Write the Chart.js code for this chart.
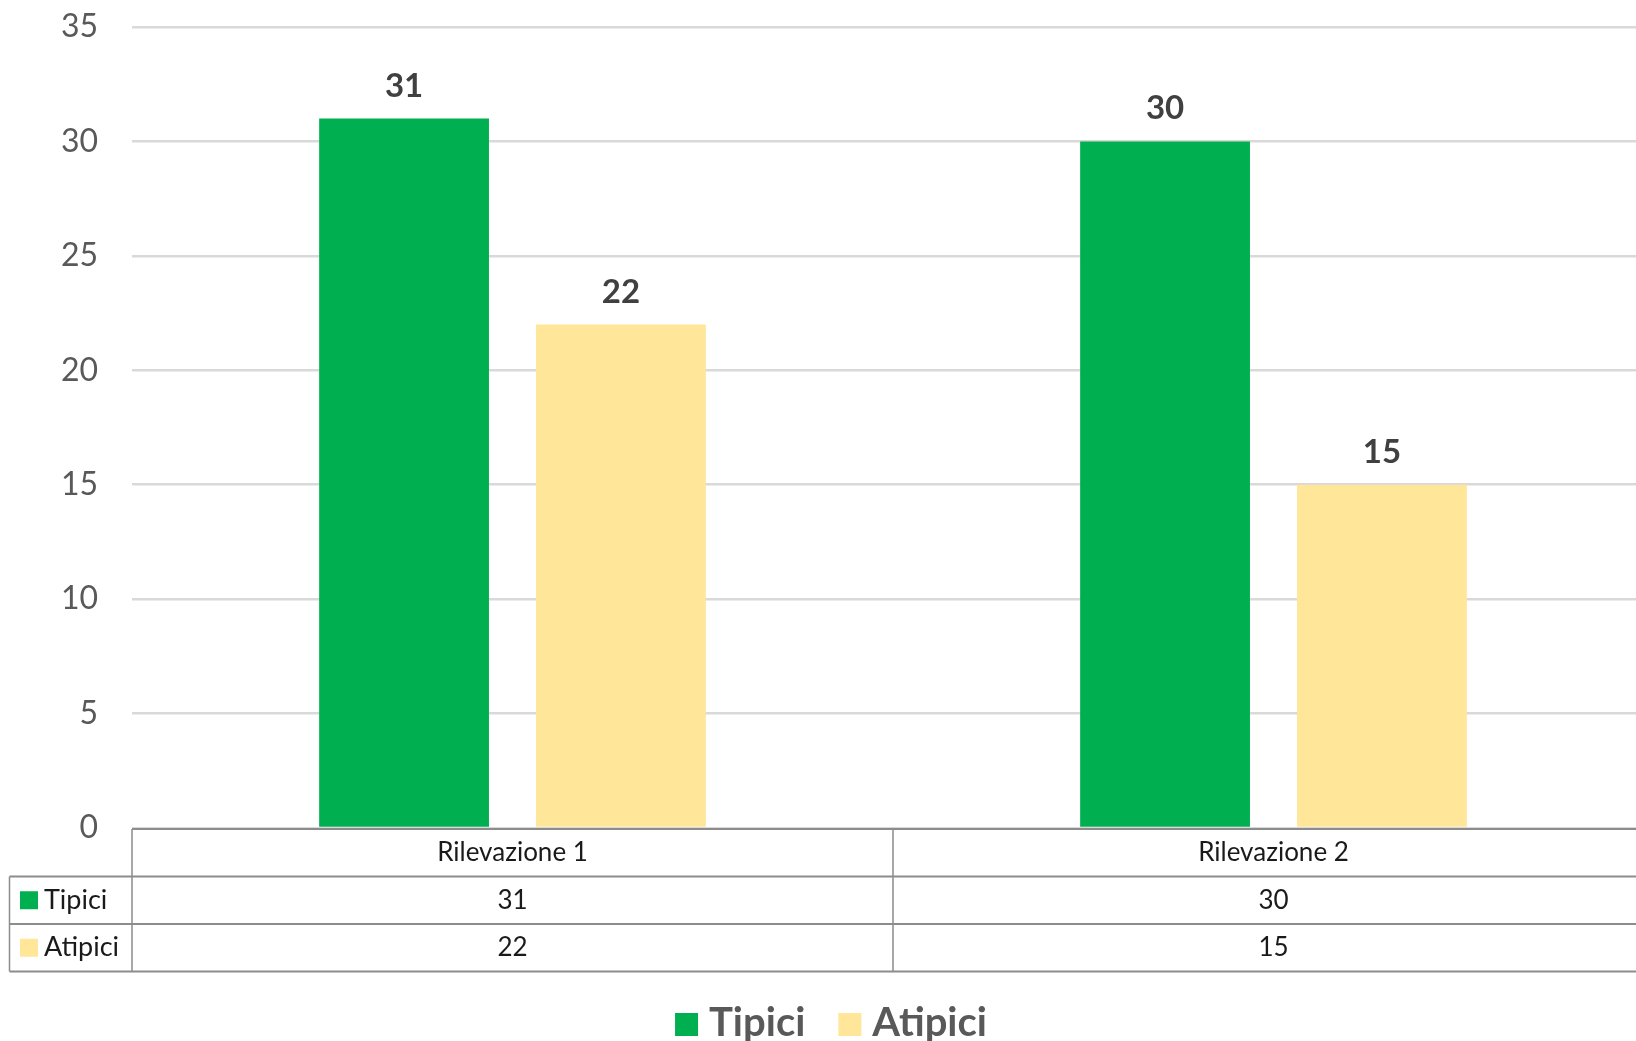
<!DOCTYPE html>
<html><head><meta charset="utf-8">
<script src="https://cdn.jsdelivr.net/npm/chart.js@4"></script>
<style>
html,body{margin:0;padding:0;overflow:hidden;background:#fff;}
#wrap{width:1656px;height:1041px;position:relative;}
canvas{display:block;}
</style></head><body>
<div id="wrap"><canvas id="c" width="1656" height="1041"></canvas></div>
<script>
// ---- data ----
const categories = ['Rilevazione 1', 'Rilevazione 2'];
const seriesNames = ['Tipici', 'Atipici'];
const tipiciValues = [31, 30];
const atipiciValues = [22, 15];
const yTickStep = 5;
const yMin = 0;
const yMax = 35;
const seriesColors = ['#00B050', '#FFE699'];

const FONT = 'Lato, "Open Sans", sans-serif';

const dataLabels = {
  id: 'dataLabels',
  afterDatasetsDraw(chart) {
    const ctx = chart.ctx;
    ctx.save();
    ctx.font = 'bold 33px ' + FONT;
    ctx.fillStyle = '#404040';
    ctx.textAlign = 'center';
    ctx.textBaseline = 'alphabetic';
    chart.data.datasets.forEach((ds, di) => {
      const meta = chart.getDatasetMeta(di);
      meta.data.forEach((el, i) => {
        ctx.fillText(String(ds.data[i]), el.x, el.y - 22);
      });
    });
    ctx.restore();
  }
};

const dataTable = {
  id: 'dataTable',
  afterDraw(chart) {
    const ctx = chart.ctx;
    const area = chart.chartArea;
    const xs = chart.scales.x;
    const W = chart.width;
    const n = categories.length;
    const catW = (area.right - area.left) / n;
    const top = area.bottom + 1;
    const rowH = 47.5;
    const tableLeft = 9.5;
    const rows = [top, top + rowH, top + 2 * rowH, top + 3 * rowH];
    ctx.save();
    ctx.strokeStyle = '#8c8c8c';
    ctx.lineWidth = 2;
    ctx.beginPath();
    ctx.moveTo(area.left, rows[0]); ctx.lineTo(W, rows[0]);
    for (let r = 1; r < 4; r++) { ctx.moveTo(tableLeft, rows[r]); ctx.lineTo(W, rows[r]); }
    ctx.stroke();
    ctx.lineWidth = 1.5;
    ctx.beginPath();
    ctx.moveTo(tableLeft, rows[1]); ctx.lineTo(tableLeft, rows[3]);
    for (let c = 0; c <= n; c++) {
      const x = area.left + c * catW;
      ctx.moveTo(x, rows[0]); ctx.lineTo(x, rows[3]);
    }
    ctx.stroke();
    ctx.fillStyle = '#1a1a1a';
    ctx.textAlign = 'center';
    ctx.textBaseline = 'middle';
    ctx.font = '26px ' + FONT;
    categories.forEach((c, i) => {
      ctx.fillText(c, xs.getPixelForValue(i), (rows[0] + rows[1]) / 2);
    });
    chart.data.datasets.forEach((ds, di) => {
      const yc = (rows[di + 1] + rows[di + 2]) / 2;
      ctx.fillStyle = '#1a1a1a';
      ds.data.forEach((v, i) => {
        ctx.fillText(String(v), xs.getPixelForValue(i), yc);
      });
      ctx.fillStyle = ds.backgroundColor;
      ctx.fillRect(20, yc - 9, 18, 18);
      ctx.fillStyle = '#1a1a1a';
      ctx.textAlign = 'left';
      ctx.font = '27px ' + FONT;
      ctx.fillText(ds.label, 44, yc);
      ctx.textAlign = 'center';
      ctx.font = '26px ' + FONT;
    });
    ctx.restore();
  }
};

const bottomLegend = {
  id: 'bottomLegend',
  afterDraw(chart) {
    const ctx = chart.ctx;
    ctx.save();
    ctx.font = 'bold 40px ' + FONT;
    ctx.textBaseline = 'alphabetic';
    const box = 23, gapText = 11, gapItem = 33;
    const items = chart.data.datasets.map(ds => ({ label: ds.label, color: ds.backgroundColor, w: ctx.measureText(ds.label).width }));
    let total = 0;
    items.forEach((it, i) => { total += box + gapText + it.w + (i < items.length - 1 ? gapItem : 0); });
    let x = 831 - total / 2;
    const baseline = 1036;
    items.forEach(it => {
      ctx.fillStyle = it.color;
      ctx.fillRect(x, baseline - box, box, box);
      x += box + gapText;
      ctx.fillStyle = '#595959';
      ctx.fillText(it.label, x, baseline);
      x += it.w + gapItem;
    });
    ctx.restore();
  }
};

new Chart(document.getElementById('c'), {
  type: 'bar',
  data: {
    labels: categories,
    datasets: [
      { label: seriesNames[0], data: tipiciValues, backgroundColor: seriesColors[0] },
      { label: seriesNames[1], data: atipiciValues, backgroundColor: seriesColors[1] }
    ]
  },
  options: {
    responsive: false,
    devicePixelRatio: 1,
    animation: false,
    categoryPercentage: 0.570,
    barPercentage: 0.783,
    layout: { padding: { top: 27, right: 2, bottom: 213, left: 0 } },
    plugins: { legend: { display: false }, tooltip: { enabled: false } },
    scales: {
      x: { display: false },
      y: {
        min: yMin, max: yMax,
        ticks: { stepSize: yTickStep, padding: 0, color: '#595959', font: { family: FONT, size: 32 } },
        grid: { color: '#d9d9d9', lineWidth: 2.5, drawTicks: true, tickLength: 34, tickColor: 'rgba(0,0,0,0)' },
        border: { display: false },
        afterFit(scale) { scale.width = 132; }
      }
    }
  },
  plugins: [dataLabels, dataTable, bottomLegend]
});
</script>
</body></html>
